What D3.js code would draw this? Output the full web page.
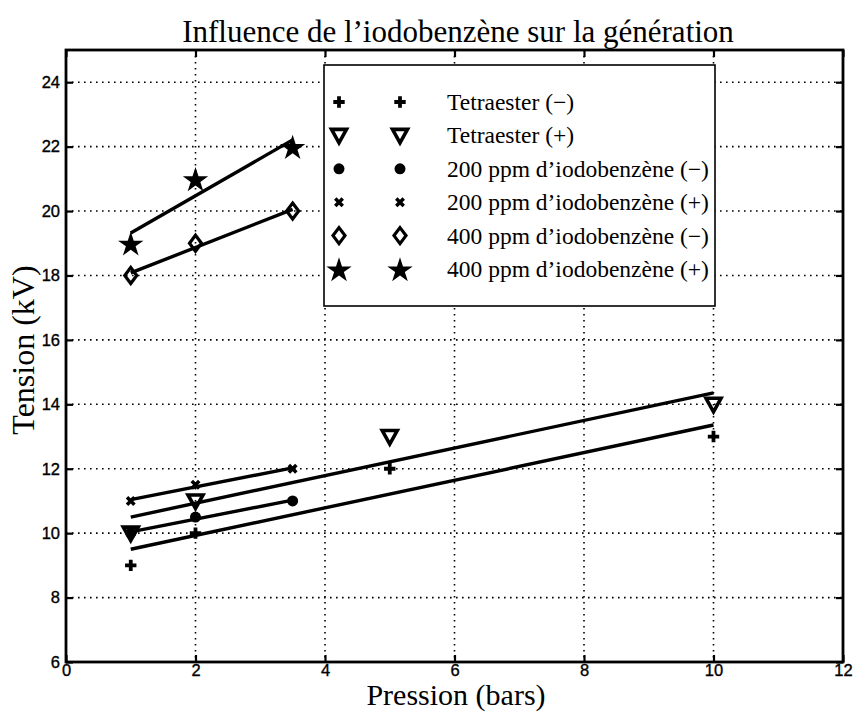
<!DOCTYPE html>
<html>
<head>
<meta charset="utf-8">
<script src="https://cdn.jsdelivr.net/npm/d3@7/dist/d3.min.js"></script>
<style>
  body { margin: 0; background: #fff; }
  svg { display: block; }
</style>
</head>
<body>
<svg id="chart" width="857" height="712"></svg>
<script>
// Breakdown voltage versus pressure, one series per liquid and polarity
const seriesNames = [
  "Tetraester (\u2212)",
  "Tetraester (+)",
  "200 ppm d\u2019iodobenz\u00e8ne (\u2212)",
  "200 ppm d\u2019iodobenz\u00e8ne (+)",
  "400 ppm d\u2019iodobenz\u00e8ne (\u2212)",
  "400 ppm d\u2019iodobenz\u00e8ne (+)"
];
const seriesMarkers = ["plus", "triangle", "circle", "cross", "diamond", "star"];

const tetraMinusX = [1, 2, 5, 10];
const tetraMinusY = [9, 10, 12, 13];
const tetraPlusX = [1, 2, 5, 10];
const tetraPlusY = [10, 11, 13, 14];
const iodo200MinusX = [1, 2, 3.5];
const iodo200MinusY = [10, 10.5, 11];
const iodo200PlusX = [1, 2, 3.5];
const iodo200PlusY = [11, 11.5, 12];
const iodo400MinusX = [1, 2, 3.5];
const iodo400MinusY = [18, 19, 20];
const iodo400PlusX = [1, 2, 3.5];
const iodo400PlusY = [19, 21, 22];

const xTicks = [0, 2, 4, 6, 8, 10, 12];
const yTicks = [6, 8, 10, 12, 14, 16, 18, 20, 22, 24];

const seriesX = [tetraMinusX, tetraPlusX, iodo200MinusX, iodo200PlusX, iodo400MinusX, iodo400PlusX];
const seriesY = [tetraMinusY, tetraPlusY, iodo200MinusY, iodo200PlusY, iodo400MinusY, iodo400PlusY];

const svg = d3.select("#chart");
const margin = { left: 66, right: 14, top: 50, bottom: 50 };
const W = 857, H = 712;
const x = d3.scaleLinear().domain([0, 12]).range([margin.left, W - margin.right]);
const y = d3.scaleLinear().domain([6, 25]).range([H - margin.bottom, margin.top]);
const serif = "'Liberation Serif', 'Times New Roman', serif";
const sans = "'Liberation Sans', Arial, sans-serif";

// dotted grid
const grid = svg.append("g");
grid.selectAll(".gx").data(xTicks.slice(1, -1)).join("line")
  .attr("x1", d => x(d)).attr("x2", d => x(d))
  .attr("y1", y(25)).attr("y2", y(6))
  .attr("stroke", "#000").attr("stroke-width", 1.6).attr("stroke-dasharray", "1.6,4.4");
grid.selectAll(".gy").data(yTicks.slice(1)).join("line")
  .attr("y1", d => y(d)).attr("y2", d => y(d))
  .attr("x1", x(0)).attr("x2", x(12))
  .attr("stroke", "#000").attr("stroke-width", 1.6).attr("stroke-dasharray", "1.6,4.4");

// axes with inward ticks on all four sides
function styleAxis(g) {
  g.select(".domain").remove();
  g.selectAll(".tick line").attr("stroke", "#000").attr("stroke-width", 2.2);
  g.selectAll(".tick text").attr("font-family", sans).attr("font-size", 16.5)
    .attr("fill", "#000").attr("stroke", "#000").attr("stroke-width", 0.35);
}
svg.append("g").attr("transform", `translate(0,${y(6)})`)
  .call(d3.axisBottom(x).tickValues(xTicks).tickSize(-7).tickPadding(2).tickFormat(d3.format("d")))
  .call(styleAxis);
svg.append("g").attr("transform", `translate(0,${y(25)})`)
  .call(d3.axisTop(x).tickValues(xTicks).tickSize(-7).tickFormat(""))
  .call(styleAxis);
svg.append("g").attr("transform", `translate(${x(0)},0)`)
  .call(d3.axisLeft(y).tickValues(yTicks).tickSize(-7).tickPadding(6).tickFormat(d3.format("d")))
  .call(styleAxis);
svg.append("g").attr("transform", `translate(${x(12)},0)`)
  .call(d3.axisRight(y).tickValues(yTicks).tickSize(-7).tickFormat(""))
  .call(styleAxis);

svg.append("rect")
  .attr("x", x(0)).attr("y", y(25))
  .attr("width", x(12) - x(0)).attr("height", y(6) - y(25))
  .attr("fill", "none").attr("stroke", "#000").attr("stroke-width", 2.8);

// marker shapes
function drawMarker(g, type, cx, cy) {
  const m = g.append("g").attr("transform", `translate(${cx},${cy})`);
  if (type === "plus") {
    m.append("path").attr("d", d3.symbol(d3.symbolCross, 72)()).attr("fill", "#000");
  } else if (type === "triangle") {
    m.append("path").attr("d", "M-7.5,-6 L7.5,-6 L0,7.5 Z")
      .attr("fill", "none").attr("stroke", "#000").attr("stroke-width", 3.6).attr("stroke-linejoin", "miter");
  } else if (type === "circle") {
    m.append("circle").attr("r", 5.5).attr("fill", "#000");
  } else if (type === "cross") {
    m.append("path").attr("d", d3.symbol(d3.symbolCross, 62)()).attr("fill", "#000")
      .attr("transform", "rotate(45)");
  } else if (type === "diamond") {
    m.append("path").attr("d", "M0,-8 L6,0 L0,8 L-6,0 Z")
      .attr("fill", "none").attr("stroke", "#000").attr("stroke-width", 3.2);
  } else if (type === "star") {
    m.append("path").attr("d", d3.symbol(d3.symbolStar, 200)()).attr("fill", "#000")
      .attr("transform", "translate(0,1.5)");
  }
}

// least-squares line over each series' pressure range
function fit(xs, ys) {
  const mx = d3.mean(xs), my = d3.mean(ys);
  const sxy = d3.sum(xs, (v, i) => (v - mx) * (ys[i] - my));
  const sxx = d3.sum(xs, v => (v - mx) * (v - mx));
  const b = sxy / sxx, a = my - b * mx;
  const x0 = d3.min(xs), x1 = d3.max(xs);
  return [[x0, a + b * x0], [x1, a + b * x1]];
}

const line = d3.line().x(d => x(d[0])).y(d => y(d[1]));
const plot = svg.append("g");
seriesX.forEach((xs, i) => {
  plot.append("path").attr("d", line(fit(xs, seriesY[i])))
    .attr("fill", "none").attr("stroke", "#000").attr("stroke-width", 3.4);
});
seriesX.forEach((xs, i) => {
  xs.forEach((v, j) => drawMarker(plot, seriesMarkers[i], x(v), y(seriesY[i][j])));
});

// legend
const lg = svg.append("g");
lg.append("rect").attr("x", 324).attr("y", 65).attr("width", 391).attr("height", 241)
  .attr("fill", "#fff").attr("stroke", "#000").attr("stroke-width", 1.6);
seriesNames.forEach((name, i) => {
  const ry = 102 + i * 33.4;
  drawMarker(lg, seriesMarkers[i], 339, ry);
  drawMarker(lg, seriesMarkers[i], 400, ry);
  lg.append("text").attr("x", 447).attr("y", ry + 8)
    .attr("font-family", serif).attr("font-size", 23.5).attr("fill", "#000").text(name);
});

// titles
svg.append("text").attr("x", 458).attr("y", 42).attr("text-anchor", "middle")
  .attr("font-family", serif).attr("font-size", 31).attr("fill", "#000")
  .text("Influence de l\u2019iodobenz\u00e8ne sur la g\u00e9n\u00e9ration");
svg.append("text").attr("x", 456).attr("y", 705).attr("text-anchor", "middle")
  .attr("font-family", serif).attr("font-size", 30).attr("fill", "#000")
  .text("Pression (bars)");
svg.append("text").attr("transform", "translate(34,350) rotate(-90)")
  .attr("text-anchor", "middle")
  .attr("font-family", serif).attr("font-size", 32).attr("fill", "#000")
  .text("Tension (kV)");
</script>
</body>
</html>
